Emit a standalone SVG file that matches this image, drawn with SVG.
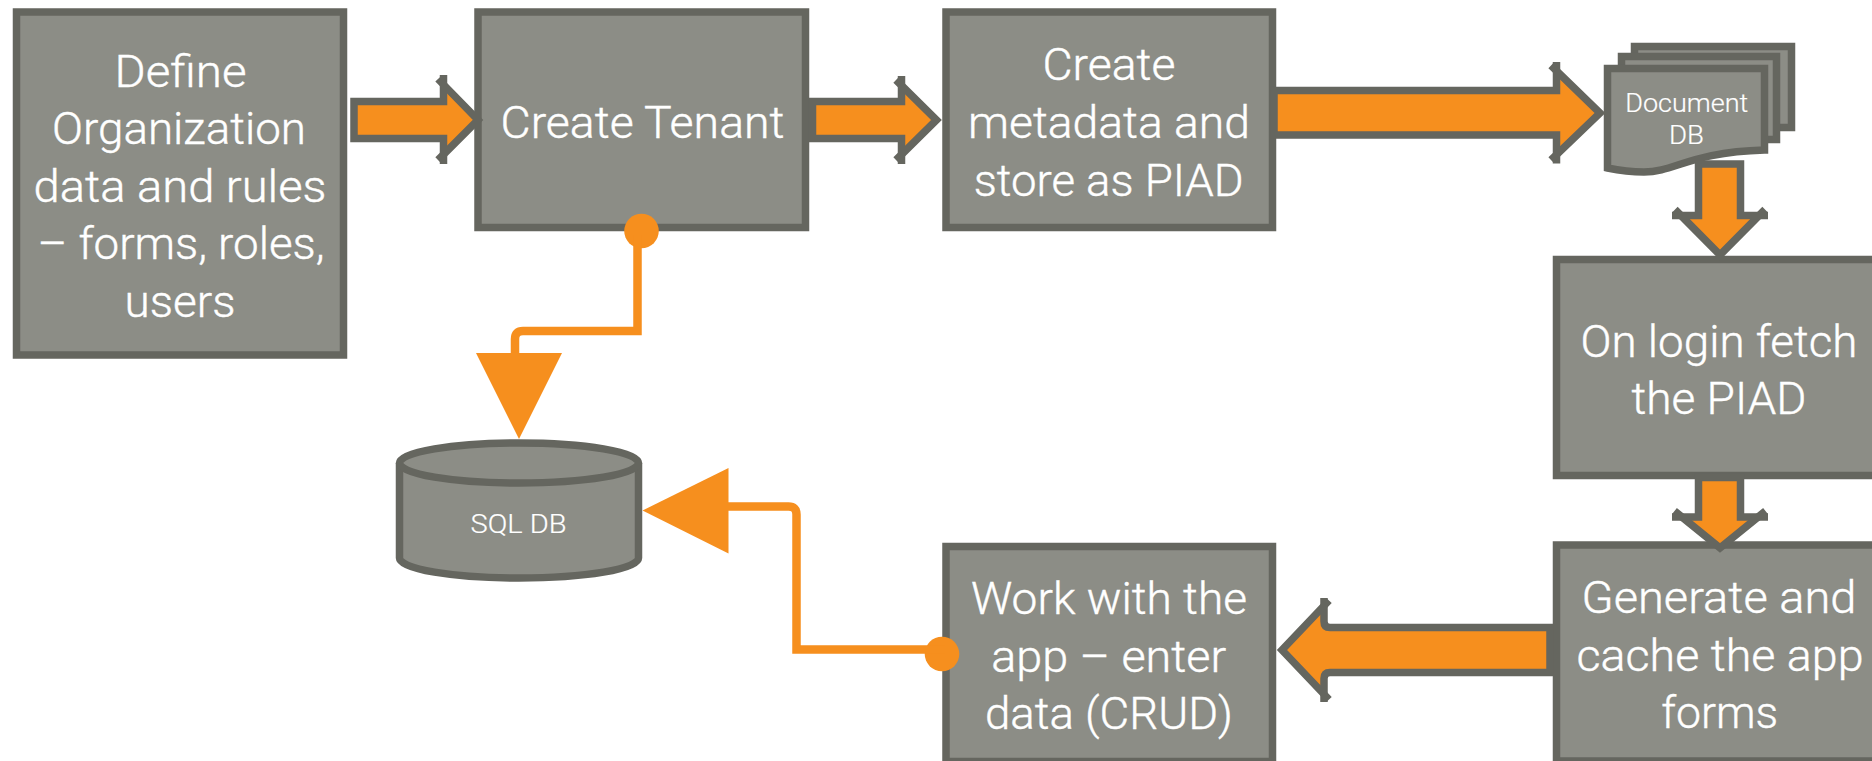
<svg xmlns="http://www.w3.org/2000/svg" width="1872" height="761" viewBox="0 0 1872 761">
<style>
.b{fill:#8c8d86;stroke:#65665f;stroke-width:7.5}
.k{fill:none;stroke:#65665f;stroke-width:7.5;stroke-miterlimit:6}
.o{fill:#f68f1e}
.l{fill:none;stroke:#f68f1e;stroke-width:8.5;stroke-linejoin:miter}
text{font-family:Roboto,"Liberation Sans",sans-serif;font-weight:300;fill:#fff;stroke:#fff;stroke-width:.4px;text-anchor:middle}
.t{font-size:45px}
.s{font-size:25.500px;stroke-width:.2px}
</style>
<rect width="1872" height="761" fill="#fff"/>
<g id="n1"><rect class="b" x="16.500" y="12" width="327" height="343"/>
<text class="t" x="180.500" y="87" textLength="132" lengthAdjust="spacingAndGlyphs">Define</text>
<text class="t" x="179" y="144" textLength="254" lengthAdjust="spacingAndGlyphs">Organization</text>
<text class="t" x="180" y="202" textLength="293" lengthAdjust="spacingAndGlyphs">data and rules</text>
<text class="t" x="181" y="259" textLength="287" lengthAdjust="spacingAndGlyphs">– forms, roles,</text>
<text class="t" x="180" y="317" textLength="111" lengthAdjust="spacingAndGlyphs">users</text></g>
<g id="n2"><rect class="b" x="478" y="12" width="327.500" height="215.500"/>
<text class="t" x="642.500" y="138" textLength="284" lengthAdjust="spacingAndGlyphs">Create Tenant</text></g>
<g id="n3"><rect class="b" x="946" y="12" width="326.500" height="215.500"/>
<text class="t" x="1109" y="80" textLength="133" lengthAdjust="spacingAndGlyphs">Create</text>
<text class="t" x="1109" y="138" textLength="282" lengthAdjust="spacingAndGlyphs">metadata and</text>
<text class="t" x="1108.700" y="196" textLength="270" lengthAdjust="spacingAndGlyphs">store as PIAD</text></g>
<g id="n4"><path class="b" d="M1634.500 46.500H1791.500V127.500H1634.500Z"/><path class="b" d="M1621.500 56.500H1776.500V139.500H1621.500Z"/>
<path class="b" d="M1607.500 68.500H1764.500V150C1690 152 1675 172 1644 172C1632 172 1622 171 1607.500 168Z"/>
<text class="s" x="1686.700" y="112" textLength="123" lengthAdjust="spacingAndGlyphs">Document</text>
<text class="s" x="1686.500" y="144" textLength="35" lengthAdjust="spacingAndGlyphs">DB</text></g>
<g id="n5"><rect class="b" x="1556.500" y="259.500" width="330" height="216"/>
<text class="t" x="1719" y="356.500" textLength="277" lengthAdjust="spacingAndGlyphs">On login fetch</text>
<text class="t" x="1719" y="413.500" textLength="175" lengthAdjust="spacingAndGlyphs">the PIAD</text></g>
<g id="n6"><rect class="b" x="1556.500" y="545" width="330" height="216"/>
<text class="t" x="1719" y="612.500" textLength="275" lengthAdjust="spacingAndGlyphs">Generate and</text>
<text class="t" x="1720" y="670.500" textLength="287" lengthAdjust="spacingAndGlyphs">cache the app</text>
<text class="t" x="1719.700" y="727.500" textLength="117" lengthAdjust="spacingAndGlyphs">forms</text></g>
<g id="n7"><rect class="b" x="946" y="546.500" width="326.500" height="215"/>
<text class="t" x="1109" y="614" textLength="276" lengthAdjust="spacingAndGlyphs">Work with the</text>
<text class="t" x="1108.800" y="671.500" textLength="235" lengthAdjust="spacingAndGlyphs">app – enter</text>
<text class="t" x="1109" y="729" textLength="248" lengthAdjust="spacingAndGlyphs">data (CRUD)</text></g>
<g id="n8"><path class="b" d="M399.500 463A119.500 20 0 0 1 638.500 463V558A119.500 20 0 0 1 399.500 558Z"/>
<path class="k" d="M399.500 463A119.500 20 0 0 0 638.500 463"/>
<text class="s" x="518.500" y="533" textLength="96" lengthAdjust="spacingAndGlyphs">SQL DB</text></g>
<g id="connectors">
<g id="arrow-1"><path class="o" d="M354 101.500H443.500V86L478 120L443.500 153V138.500H354Z"/><path class="k" d="M443.500 164V138.500H354V101.500H443.500V75"/><path class="k" d="M438 79L478 120L438 160"/></g>
<g id="arrow-2"><path class="o" d="M812.500 101.500H901.500V86L936.500 120L901.500 153V138.500H812.500Z"/><path class="k" d="M901.500 164V138.500H812.500V101.500H901.500V76"/><path class="k" d="M896 80L936.500 120L896 160"/></g>
<g id="arrow-3"><path class="o" d="M1274 90.500H1556.500V69L1600 113L1556.500 157V135H1274Z"/><path class="k" d="M1556.500 163.500V135H1274V90.500H1556.500V62"/><path class="k" d="M1551 65.500L1600 113L1551 160"/></g>
<g id="arrow-4"><path class="o" d="M1698.500 164V215.500H1680L1720 255L1760 215.500H1740.500V164Z"/><path class="k" d="M1672 215.500H1698.500V164H1740.500V215.500H1768"/><path class="k" d="M1675 209.500L1720 255L1765 209.500"/></g>
<g id="arrow-5"><path class="o" d="M1698.500 477.500V517H1680L1720 548L1760 517H1740.500V477.500Z"/><path class="k" d="M1672 517H1698.500V477.500H1740.500V517H1768"/><path class="k" d="M1674.500 511L1720 548L1765.500 511"/></g>
<g id="arrow-6"><path class="o" d="M1550 627.500H1330Q1324 627.500 1324 621.500V605L1282 650L1324 695V678.500Q1324 672.500 1330 672.500H1550Z"/><path class="k" d="M1324 598V621.500Q1324 627.500 1330 627.500H1550V672.500H1330Q1324 672.500 1324 678.500V702"/><path class="k" d="M1329 600.500L1282 650L1329 699.500"/></g>
<circle class="o" cx="641.500" cy="231" r="17.300"/>
<path class="l" d="M637.500 235V331H523Q515 331 515 339V360"/>
<path class="o" d="M476 353H562L519 439Z"/>
<circle class="o" cx="942" cy="654" r="17.300"/>
<path class="l" d="M945 649.500H796.500V514.500Q796.500 506.500 788.500 506.500H720"/>
<path class="o" d="M642.500 510.500L728.500 468V553.500Z"/>
</g>
</svg>
